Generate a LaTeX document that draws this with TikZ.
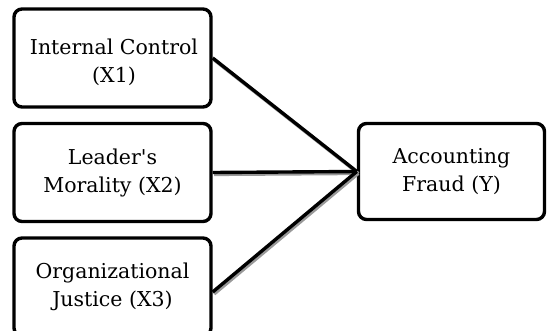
\documentclass[tikz,border=0pt]{standalone}
\usepackage{fontspec}
\newfontfamily\boxfont{DejaVu Serif}
\begin{document}
\begin{tikzpicture}[x=1pt,y=-1pt,
  box/.style={draw=black,line width=3.4pt,rounded corners=8pt,fill=white,
    minimum width=197pt,minimum height=98pt,align=center,inner sep=0pt,
    font=\boxfont\fontsize{20.5}{28}\selectfont},
  label text/.style={align=center,inner sep=0pt,font=\boxfont\fontsize{20.5}{28}\selectfont},
  link/.style={line width=3.4pt,black},
  shade/.style={line width=3.2pt,black!40}]
\useasboundingbox (0,0) rectangle (547,330);
\node[box] (b1) at (112.5,58) {};
\node[label text] (t1) at (114,62) {Internal Control\\(X1)};
\node[box] (b2) at (112.5,172.5) {Leader's\\Morality (X2)};
\node[box] (b3) at (112.5,287) {Organizational\\Justice (X3)};
\node[box,minimum width=186pt,minimum height=96pt] (y) at (451.5,171.5) {Accounting\\Fraud (Y)};
\coordinate (c) at (y.west);
\coordinate (e3) at ([yshift=-5pt]b3.east);
\begin{scope}[transform canvas={xshift=1.5pt,yshift=-2pt}]
\draw[shade] (b1.east) -- (c);
\draw[shade] (b2.east) -- (c);
\draw[shade] (e3) -- (c);
\end{scope}
\draw[link] (b1.east) -- (c);
\draw[link] (b2.east) -- (c);
\draw[link] (e3) -- (c);
\end{tikzpicture}
\end{document}
